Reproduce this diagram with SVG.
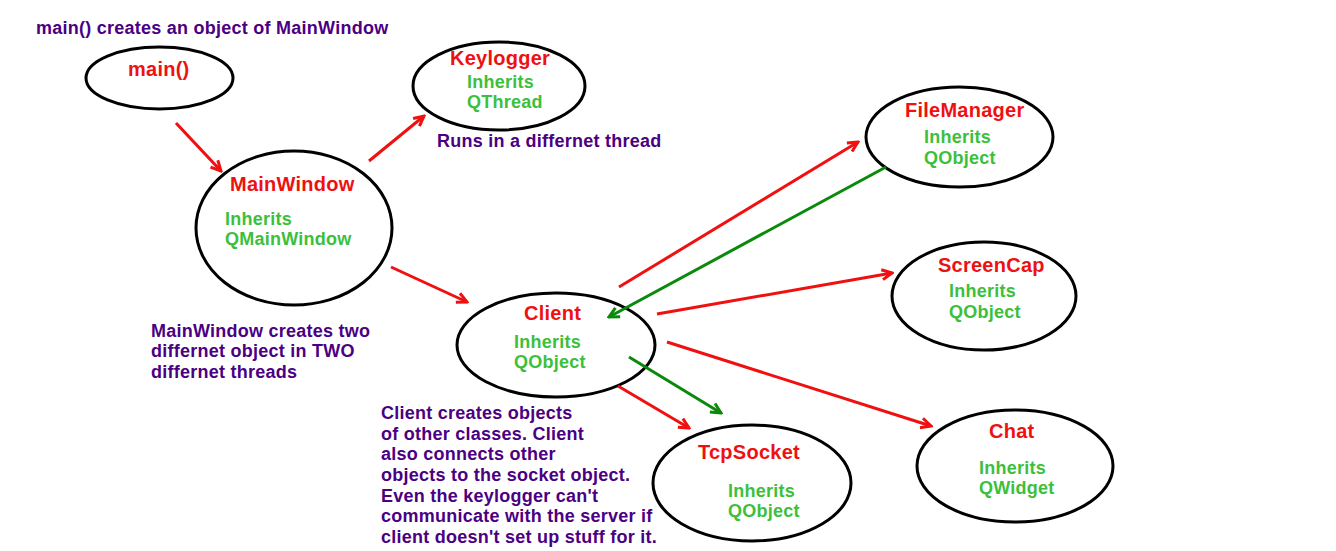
<svg xmlns="http://www.w3.org/2000/svg" width="1336" height="551" viewBox="0 0 1336 551">
<style>
text{font-family:"Liberation Sans",Arial,sans-serif;font-weight:bold;letter-spacing:0.25px}
.t{fill:#ee1111;font-size:20px}
.g{fill:#3cc03c;font-size:18px}
.p{fill:#4b0082;font-size:18px}
.n{fill:#fff;stroke:#000;stroke-width:3}
.r{stroke:#f01010;stroke-width:3;fill:none;marker-end:url(#ar)}
.k{stroke:#0a8a0a;stroke-width:3;fill:none;marker-end:url(#ag)}
</style>
<defs>
<marker id="ar" viewBox="0 0 14 14" refX="12" refY="7" markerWidth="14" markerHeight="14" markerUnits="userSpaceOnUse" orient="auto">
<path d="M2,2 L12,7 L2,12" fill="none" stroke="#f01010" stroke-width="3"/>
</marker>
<marker id="ag" viewBox="0 0 14 14" refX="12" refY="7" markerWidth="14" markerHeight="14" markerUnits="userSpaceOnUse" orient="auto">
<path d="M2,2 L12,7 L2,12" fill="none" stroke="#0a8a0a" stroke-width="3"/>
</marker>
</defs>
<rect width="1336" height="551" fill="#fff"/>
<text class="p" x="36" y="34">main() creates an object of MainWindow</text>
<g id="main">
<ellipse class="n" cx="159.5" cy="78" rx="73.5" ry="31"/>
<text class="t" x="128" y="76">main()</text>
</g>
<g id="keylogger">
<ellipse class="n" cx="499" cy="86" rx="86" ry="44"/>
<text class="t" x="450" y="65">Keylogger</text>
<text class="g" x="467" y="88">Inherits</text>
<text class="g" x="467" y="108">QThread</text>
</g>
<text class="p" x="437" y="147">Runs in a differnet thread</text>
<g id="mainwindow">
<ellipse class="n" cx="294" cy="228" rx="98" ry="77"/>
<text class="t" x="230" y="191">MainWindow</text>
<text class="g" x="225" y="225">Inherits</text>
<text class="g" x="225" y="245">QMainWindow</text>
</g>
<text class="p" x="151" y="337">MainWindow creates two</text>
<text class="p" x="151" y="357">differnet object in TWO</text>
<text class="p" x="151" y="378">differnet threads</text>
<g id="client">
<ellipse class="n" cx="556" cy="345" rx="99" ry="52"/>
<text class="t" x="524" y="320">Client</text>
<text class="g" x="514" y="348">Inherits</text>
<text class="g" x="514" y="368">QObject</text>
</g>
<text class="p" x="381" y="419">Client creates objects</text>
<text class="p" x="381" y="440">of other classes. Client</text>
<text class="p" x="381" y="460">also connects other</text>
<text class="p" x="381" y="481">objects to the socket object.</text>
<text class="p" x="381" y="502">Even the keylogger can't</text>
<text class="p" x="381" y="522">communicate with the server if</text>
<text class="p" x="381" y="543">client doesn't set up stuff for it.</text>
<g id="filemanager">
<ellipse class="n" cx="959.5" cy="137" rx="93.5" ry="50"/>
<text class="t" x="905" y="117">FileManager</text>
<text class="g" x="924" y="143">Inherits</text>
<text class="g" x="924" y="164">QObject</text>
</g>
<g id="screencap">
<ellipse class="n" cx="984" cy="296" rx="92" ry="54"/>
<text class="t" x="938" y="272">ScreenCap</text>
<text class="g" x="949" y="297">Inherits</text>
<text class="g" x="949" y="318">QObject</text>
</g>
<g id="tcpsocket">
<ellipse class="n" cx="752" cy="483" rx="99" ry="58"/>
<text class="t" x="698" y="459">TcpSocket</text>
<text class="g" x="728" y="497">Inherits</text>
<text class="g" x="728" y="517">QObject</text>
</g>
<g id="chat">
<ellipse class="n" cx="1015" cy="466" rx="98" ry="56"/>
<text class="t" x="989" y="438">Chat</text>
<text class="g" x="979" y="474">Inherits</text>
<text class="g" x="979" y="494">QWidget</text>
</g>
<g id="connectors">
<line class="r" x1="176" y1="123" x2="221" y2="171"/>
<line class="r" x1="369" y1="161" x2="424" y2="116"/>
<line class="r" x1="391" y1="267" x2="467" y2="302"/>
<line class="r" x1="619" y1="287" x2="858" y2="142"/>
<line class="k" x1="886" y1="167" x2="609" y2="317"/>
<line class="r" x1="657" y1="314" x2="892" y2="273"/>
<line class="r" x1="667" y1="342" x2="931" y2="426"/>
<line class="r" x1="618" y1="386" x2="689" y2="428"/>
<line class="k" x1="629" y1="357" x2="721" y2="413"/>
</g>
</svg>
